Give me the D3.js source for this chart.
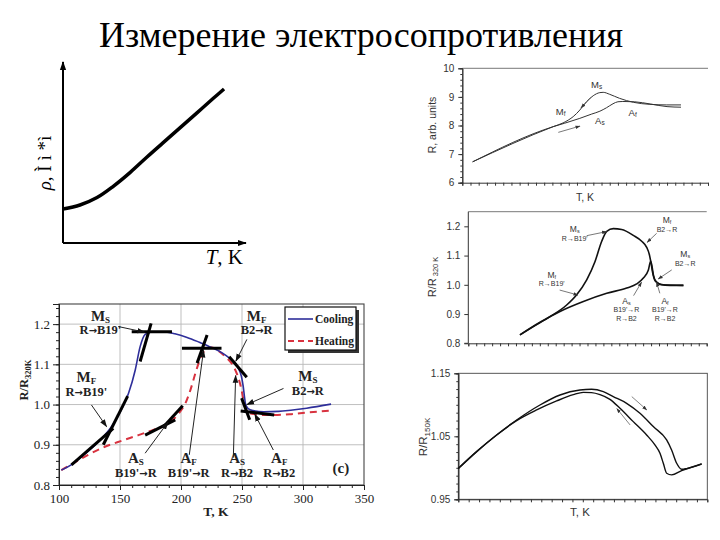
<!DOCTYPE html>
<html><head><meta charset="utf-8">
<script src="https://cdn.jsdelivr.net/npm/d3@7"></script>
<style>body{margin:0;background:#fff}</style>
</head><body><svg id="c" width="720" height="540"></svg>
<script>
// ---------- DATA ----------
const titleText = "Измерение электросопротивления";

// Panel A (schematic rho(T))
const aT   = [0, 0.93, 1.86, 2.73, 3.66, 4.59, 5.46, 6.39, 7.32, 8.20, 8.80];
const aRho = [1.88, 2.10, 2.51, 3.12, 3.89, 4.75, 5.53, 6.36, 7.19, 7.98, 8.51];
const aXLabel = "T, K";
const aYLabel = "ρ, Ì ì *ì";

// Panel B (R, arb. units)
const bCoolT = [1.26, 11.1, 12.3, 13.0, 13.54, 14.35, 15.16, 15.98, 16.79, 17.2, 18.0, 19.2, 20.9, 22.9, 24.9, 26.7];
const bCoolR = [6.73, 7.96, 8.09, 8.20, 8.31, 8.54, 8.83, 9.04, 9.15, 9.16, 9.09, 8.95, 8.81, 8.74, 8.72, 8.72];
const bHeatT = [1.26, 11.1, 12.5, 14.35, 15.8, 16.8, 17.6, 18.4, 19.0, 19.6, 21.0, 23.0, 25.0, 26.7];
const bHeatR = [6.73, 7.96, 8.08, 8.25, 8.40, 8.50, 8.62, 8.76, 8.83, 8.84, 8.83, 8.75, 8.66, 8.64];
const bYTicks = [6, 7, 8, 9, 10];
const bLabMain = ["M", "M", "A", "A"];
const bLabSub  = ["s", "f", "s", "f"];
const bLabT = [16.4, 12.0, 16.8, 20.8];
const bLabV = [9.31, 8.37, 8.05, 8.33];
const bArrows = [[15.68, 8.97, 14.49, 8.62], [11.72, 7.76, 14.37, 7.98]];

// Panel C (R/R320K)
const cCoolT = [6.50, 8.18, 10.28, 12.38, 13.64, 14.90, 15.95, 16.79, 17.42, 18.25, 19.30, 20.77, 21.82, 22.45, 22.79, 23.00, 23.21, 23.50, 24.13, 25.39, 27.07];
const cCoolR = [0.829, 0.857, 0.891, 0.931, 0.966, 1.017, 1.080, 1.149, 1.183, 1.192, 1.189, 1.169, 1.149, 1.128, 1.103, 1.074, 1.040, 1.014, 1.002, 0.998, 0.998];
const cHeatT = [6.50, 9.02, 11.54, 14.48, 17.42, 19.93, 21.19, 22.03, 22.66, 22.95, 23.12, 23.29, 23.63, 24.34, 27.07];
const cHeatR = [0.829, 0.872, 0.909, 0.943, 0.971, 0.989, 1.003, 1.023, 1.051, 1.080, 1.063, 1.034, 1.011, 1.000, 0.998];
const cYTicks = [0.8, 0.9, 1.0, 1.1, 1.2];
const cLabMain = ["M", "M", "M", "M", "A", "A"];
const cLabSub  = ["s", "f", "s", "f", "s", "f"];
const cLabLines = [["R→B19'"], ["B2→R"], ["B2→R"], ["R→B19'"], ["B19'→R", "R→B2"], ["B19'→R", "R→B2"]];
const cLabT = [13.4, 25.0, 27.3, 10.5, 19.9, 24.75];
const cLabV = [1.180, 1.210, 1.094, 1.025, 0.936, 0.936];
const cArrows = [[14.9, 1.168, 17.4, 1.182], [23.7, 1.176, 22.5, 1.145], [25.6, 1.051, 23.9, 1.020],
                 [11.5, 0.982, 13.8, 0.965], [20.8, 0.963, 21.8, 1.009], [24.1, 0.971, 23.7, 1.009]];

// Panel D (R/R150K)
const dUpT  = [0, 2.21, 4.62, 7.03, 9.84, 12.25, 14.66, 16.06, 17.47, 18.67, 20.28, 21.89, 23.49, 25.10, 25.70, 26.31, 26.91, 27.51, 29.32];
const dUpR  = [0.999, 1.0257, 1.0521, 1.0759, 1.0997, 1.1156, 1.1235, 1.1246, 1.1209, 1.1130, 1.1024, 1.0865, 1.0654, 1.0442, 1.0283, 1.0072, 0.9976, 0.9987, 1.0061];
const dLowT = [0, 2.21, 4.62, 7.03, 9.44, 11.85, 13.86, 15.06, 16.06, 17.07, 18.27, 19.48, 21.08, 22.69, 23.69, 24.30, 24.70, 25.10, 25.70, 26.91, 29.32];
const dLowR = [0.999, 1.0257, 1.0521, 1.0749, 1.0918, 1.1061, 1.1161, 1.1198, 1.1193, 1.1161, 1.1087, 1.0945, 1.0733, 1.0521, 1.0363, 1.0230, 1.0072, 0.9913, 0.9887, 0.9955, 1.0061];
const dYTicks = [0.95, 1.05, 1.15];
const dArrows = [[20.9, 1.113, 22.7, 1.092], [20.7, 1.068, 19.1, 1.094]];

// Panel E (c): cooling / heating
const eCoolT = [101.9, 110, 118, 126.5, 135, 143, 151, 157, 162.5, 166.5, 170.5, 175, 185, 195, 205, 215, 225, 234, 240, 244, 247, 249.5, 251, 252, 253, 255, 259, 268, 280, 290, 303, 323];
const eCoolR = [0.837, 0.850, 0.869, 0.891, 0.916, 0.945, 0.987, 1.028, 1.086, 1.144, 1.174, 1.180, 1.181, 1.176, 1.167, 1.155, 1.142, 1.128, 1.115, 1.105, 1.090, 1.070, 1.045, 1.020, 1.000, 0.990, 0.985, 0.982, 0.983, 0.986, 0.991, 1.001];
const eHeatT = [101.9, 112.9, 123.9, 137.6, 151.4, 165.1, 178.8, 189.8, 198.1, 203.6, 207.7, 211.8, 215.9, 220, 225, 231, 236, 242, 246, 249, 251, 253, 257, 270, 289, 303, 323];
const eHeatR = [0.837, 0.856, 0.875, 0.895, 0.910, 0.924, 0.939, 0.953, 0.978, 1.003, 1.036, 1.078, 1.115, 1.136, 1.142, 1.133, 1.120, 1.100, 1.075, 1.045, 1.015, 0.990, 0.978, 0.974, 0.976, 0.980, 0.985];
const eXTicks = [100, 150, 200, 250, 300, 350];
const eYTicks = [0.8, 0.9, 1.0, 1.1, 1.2];
const eSeries = ["Cooling", "Heating"];
const eTangents = [
  [159.6, 1.181, 192.6, 1.181], [166.5, 1.107, 175.5, 1.202],
  [136.3, 0.900, 156.3, 1.021], [110.2, 0.850, 144.5, 0.941],
  [170.6, 0.924, 195.3, 0.962], [185.7, 0.945, 201.4, 0.997],
  [200.8, 1.140, 233.2, 1.140], [213.2, 1.103, 221.4, 1.173],
  [239.5, 1.119, 253.9, 1.068], [249.7, 1.016, 256.3, 0.962],
  [248.9, 0.984, 276.4, 0.974]
];
const eArrows = [
  [148.6, 1.194, 170.0, 1.180], [126.6, 0.999, 139.0, 0.945],
  [170.6, 0.879, 189.3, 0.956], [206.8, 0.875, 218.5, 1.135],
  [242.9, 0.868, 244.8, 1.072], [254.0, 1.162, 245.0, 1.108],
  [284.0, 1.040, 254.0, 1.000], [275.7, 0.887, 260.5, 0.976]
];
const eLabMain  = ["M", "M", "A", "A", "A", "A", "M", "M"];
const eLabSub   = ["S", "F", "S", "F", "S", "F", "F", "S"];
const eLabTrans = ["R→B19'", "R→B19'", "B19'→R", "B19'→R", "R→B2", "R→B2", "B2→R", "B2→R"];
const eLabT     = [134, 122.5, 163, 206.3, 246, 280.5, 262, 304];
const eLabV     = [1.208, 1.055, 0.854, 0.854, 0.854, 0.854, 1.208, 1.058];
const ePanelTag = "(c)";

// ---------- DRAW ----------
const SERIF = "'Liberation Serif','Times New Roman',serif";
const SANS = "'Liberation Sans',Arial,sans-serif";
const svg = d3.select("#c");
svg.append("rect").attr("width", 720).attr("height", 540).attr("fill", "#fff");
const defs = svg.append("defs");
function marker(id, color, size) {
  defs.append("marker").attr("id", id).attr("viewBox", "0 0 10 10").attr("refX", 9).attr("refY", 5)
    .attr("markerWidth", size).attr("markerHeight", size).attr("markerUnits", "userSpaceOnUse")
    .attr("orient", "auto").append("path").attr("d", "M0,1.5L10,5L0,8.5Z").attr("fill", color);
}
marker("arrA", "#000", 9);
marker("arrE", "#111", 8);
marker("arrG", "#333", 5);

const zip = (xs, ys) => xs.map((x, i) => [x, ys[i]]);

// Title
svg.append("text").attr("x", 361).attr("y", 47).attr("text-anchor", "middle")
  .attr("font-family", SERIF).attr("font-size", 36).attr("fill", "#000").text(titleText);

// ---- Panel A ----
{
  const x = d3.scaleLinear().domain([0, 10]).range([63, 246]);
  const y = d3.scaleLinear().domain([0, 10]).range([243, 62]);
  const g = svg.append("g");
  g.append("line").attr("x1", x(0)).attr("y1", y(0)).attr("x2", x(0)).attr("y2", y(10))
    .attr("stroke", "#000").attr("stroke-width", 2).attr("marker-end", "url(#arrA)");
  g.append("line").attr("x1", x(0)).attr("y1", y(0)).attr("x2", x(10)).attr("y2", y(0))
    .attr("stroke", "#000").attr("stroke-width", 2).attr("marker-end", "url(#arrA)");
  g.append("path").datum(zip(aT, aRho))
    .attr("d", d3.line().x(d => x(d[0])).y(d => y(d[1])).curve(d3.curveCatmullRom))
    .attr("fill", "none").attr("stroke", "#000").attr("stroke-width", 3.5);
  const tx = g.append("text").attr("x", 243).attr("y", 264).attr("text-anchor", "end")
    .attr("font-family", SERIF).attr("font-size", 21);
  tx.append("tspan").attr("font-style", "italic").text(aXLabel.split(",")[0]);
  tx.append("tspan").text("," + aXLabel.split(",")[1]);
  const ty = g.append("text").attr("transform", "translate(51,163) rotate(-90)").attr("text-anchor", "middle")
    .attr("font-family", SERIF).attr("font-size", 19);
  ty.append("tspan").attr("font-style", "italic").text(aYLabel.slice(0, 1));
  ty.append("tspan").text(aYLabel.slice(1));
}

function styleAxis(sel, color, font, size) {
  sel.select(".domain").attr("stroke", color);
  sel.selectAll(".tick line").attr("stroke", color);
  sel.selectAll(".tick text").attr("font-family", font).attr("font-size", size).attr("fill", color);
}
function subLabel(g, x, y, main, sub, fMain, fSub, font, weight, color) {
  const t = g.append("text").attr("x", x).attr("y", y).attr("text-anchor", "middle")
    .attr("font-family", font).attr("font-size", fMain).attr("font-weight", weight).attr("fill", color);
  t.append("tspan").text(main);
  t.append("tspan").attr("font-size", fSub).attr("dy", fMain * 0.12).text(sub);
  return t;
}
function arrowText(g, x, y, s, font, size, weight, color) {
  const t = g.append("text").attr("x", x).attr("y", y).attr("text-anchor", "middle")
    .attr("font-family", font).attr("font-size", size).attr("font-weight", weight).attr("fill", color);
  const parts = s.split("→");
  t.append("tspan").text(parts[0]);
  t.append("tspan").attr("font-family", "'DejaVu Sans',sans-serif").attr("font-size", size * 0.8).attr("font-weight", "bold").text("→");
  t.append("tspan").text(parts[1]);
  return t;
}

// ---- Panel B ----
{
  const x = d3.scaleLinear().domain([0, 30]).range([462.3, 708]);
  const y = d3.scaleLinear().domain([6, 10]).range([182.7, 68.3]);
  const g = svg.append("g");
  const col = "#333";
  g.append("line").attr("x1", x(0)).attr("x2", x(30)).attr("y1", y(10)).attr("y2", y(10)).attr("stroke", "#555").attr("stroke-width", 0.8);
  const ay = g.append("g").attr("transform", `translate(${x(0)},0)`)
    .call(d3.axisLeft(y).tickValues(bYTicks).tickSize(4).tickPadding(4).tickFormat(d3.format("d")));
  styleAxis(ay, col, SANS, 10);
  const ay2 = g.append("g").attr("transform", `translate(${x(0)},0)`)
    .call(d3.axisLeft(y).tickValues(d3.range(30).map(i => 6 + i * 0.2).filter(v => v < 10)).tickSize(2).tickFormat(""));
  styleAxis(ay2, col, SANS, 10);
  const ax = g.append("g").attr("transform", `translate(0,${y(6)})`)
    .call(d3.axisBottom(x).tickValues(d3.range(31)).tickSize(3).tickFormat(""));
  styleAxis(ax, col, SANS, 10);
  const ln = d3.line().x(d => x(d[0])).y(d => y(d[1])).curve(d3.curveMonotoneX);
  g.append("path").datum(zip(bCoolT, bCoolR)).attr("d", ln).attr("fill", "none").attr("stroke", "#333").attr("stroke-width", 1);
  g.append("path").datum(zip(bHeatT, bHeatR)).attr("d", ln).attr("fill", "none").attr("stroke", "#333").attr("stroke-width", 1);
  bLabMain.forEach((m, i) => subLabel(g, x(bLabT[i]), y(bLabV[i]), m, bLabSub[i], 9.5, 6.5, SANS, "normal", col));
  bArrows.forEach(a => g.append("line").attr("x1", x(a[0])).attr("y1", y(a[1])).attr("x2", x(a[2])).attr("y2", y(a[3]))
    .attr("stroke", "#555").attr("stroke-width", 0.8).attr("marker-end", "url(#arrG)"));
  g.append("text").attr("transform", "translate(436,125) rotate(-90)").attr("text-anchor", "middle")
    .attr("font-family", SANS).attr("font-size", 10.5).attr("fill", col).text("R, arb. units");
  g.append("text").attr("x", 585).attr("y", 201).attr("text-anchor", "middle")
    .attr("font-family", SANS).attr("font-size", 10.5).attr("fill", col).text("T, K");
}

// ---- Panel C ----
{
  const x = d3.scaleLinear().domain([0, 30]).range([468.3, 706.7]);
  const y = d3.scaleLinear().domain([0.8, 1.25]).range([343.3, 211.7]);
  const g = svg.append("g");
  const col = "#333";
  g.append("line").attr("x1", x(0)).attr("x2", x(30)).attr("y1", y(1.25)).attr("y2", y(1.25)).attr("stroke", "#555").attr("stroke-width", 0.8);
  const ay = g.append("g").attr("transform", `translate(${x(0)},0)`)
    .call(d3.axisLeft(y).tickValues(cYTicks).tickSize(4).tickPadding(4).tickFormat(d3.format(".1f")));
  ay.select(".domain").attr("d", `M-4,${y(0.8)}H0V${y(1.25)}`);
  styleAxis(ay, col, SANS, 10);
  const ax = g.append("g").attr("transform", `translate(0,${y(0.8)})`)
    .call(d3.axisBottom(x).tickValues(d3.range(31)).tickSize(3).tickFormat(""));
  styleAxis(ax, col, SANS, 10);
  const ln = d3.line().x(d => x(d[0])).y(d => y(d[1])).curve(d3.curveMonotoneX);
  g.append("path").datum(zip(cCoolT, cCoolR)).attr("d", ln).attr("fill", "none").attr("stroke", "#111").attr("stroke-width", 1.6);
  g.append("path").datum(zip(cHeatT, cHeatR)).attr("d", ln).attr("fill", "none").attr("stroke", "#111").attr("stroke-width", 1.6);
  cLabMain.forEach((m, i) => {
    subLabel(g, x(cLabT[i]), y(cLabV[i]), m, cLabSub[i], 8.5, 5.5, SANS, "normal", col);
    cLabLines[i].forEach((s, j) => g.append("text").attr("x", x(cLabT[i])).attr("y", y(cLabV[i]) + 8.5 * (j + 1))
      .attr("text-anchor", "middle").attr("font-family", SANS).attr("font-size", 7).attr("fill", col).text(s));
  });
  cArrows.forEach(a => g.append("line").attr("x1", x(a[0])).attr("y1", y(a[1])).attr("x2", x(a[2])).attr("y2", y(a[3]))
    .attr("stroke", "#555").attr("stroke-width", 0.8).attr("marker-end", "url(#arrG)"));
  const t = g.append("text").attr("transform", "translate(436,277) rotate(-90)").attr("text-anchor", "middle")
    .attr("font-family", SANS).attr("font-size", 11).attr("fill", col);
  t.append("tspan").text("R/R");
  t.append("tspan").attr("font-size", 7.5).attr("dy", 2).text(" 320 K");
}

// ---- Panel D ----
{
  const x = d3.scaleLinear().domain([0, 30]).range([458.3, 707.3]);
  const y = d3.scaleLinear().domain([0.95, 1.15]).range([499.3, 373.3]);
  const g = svg.append("g");
  const col = "#333";
  g.append("rect").attr("x", x(0)).attr("y", y(1.15)).attr("width", x(30) - x(0)).attr("height", y(0.95) - y(1.15))
    .attr("fill", "none").attr("stroke", "#444").attr("stroke-width", 0.9);
  const ay = g.append("g").attr("transform", `translate(${x(0)},0)`)
    .call(d3.axisLeft(y).tickValues(dYTicks).tickSize(4).tickPadding(4).tickFormat(d3.format(".2f")));
  styleAxis(ay, col, SANS, 10);
  const ay2 = g.append("g").attr("transform", `translate(${x(0)},0)`)
    .call(d3.axisLeft(y).tickValues(d3.range(17).map(i => 0.95 + i * 0.0125)).tickSize(2).tickFormat(""));
  styleAxis(ay2, col, SANS, 10);
  const ax = g.append("g").attr("transform", `translate(0,${y(0.95)})`)
    .call(d3.axisBottom(x).tickValues(d3.range(25).map(i => i * 1.25)).tickSize(3).tickFormat(""));
  styleAxis(ax, col, SANS, 10);
  const ln = d3.line().x(d => x(d[0])).y(d => y(d[1])).curve(d3.curveMonotoneX);
  g.append("path").datum(zip(dUpT, dUpR)).attr("d", ln).attr("fill", "none").attr("stroke", "#111").attr("stroke-width", 1.4);
  g.append("path").datum(zip(dLowT, dLowR)).attr("d", ln).attr("fill", "none").attr("stroke", "#111").attr("stroke-width", 1.4);
  dArrows.forEach(a => g.append("line").attr("x1", x(a[0])).attr("y1", y(a[1])).attr("x2", x(a[2])).attr("y2", y(a[3]))
    .attr("stroke", "#666").attr("stroke-width", 0.8).attr("marker-end", "url(#arrG)"));
  const t = g.append("text").attr("transform", "translate(427,437) rotate(-90)").attr("text-anchor", "middle")
    .attr("font-family", SANS).attr("font-size", 11.5).attr("fill", col);
  t.append("tspan").text("R/R");
  t.append("tspan").attr("font-size", 8).attr("dy", 3).text("150K");
  g.append("text").attr("x", 580).attr("y", 516).attr("text-anchor", "middle")
    .attr("font-family", SANS).attr("font-size", 11.5).attr("fill", col).text("T, K");
}

// ---- Panel E ----
{
  const x = d3.scaleLinear().domain([100, 350]).range([59, 364]);
  const y = d3.scaleLinear().domain([0.8, 1.25]).range([485, 304]);
  const g = svg.append("g");
  const col = "#222";
  g.selectAll(".gx").data(eXTicks.slice(1, -1)).join("line")
    .attr("x1", d => x(d)).attr("x2", d => x(d)).attr("y1", y(0.8)).attr("y2", y(1.25)).attr("stroke", "#b8b8b8").attr("stroke-width", 0.9);
  g.selectAll(".gy").data(eYTicks.slice(1)).join("line")
    .attr("x1", x(100)).attr("x2", x(350)).attr("y1", d => y(d)).attr("y2", d => y(d)).attr("stroke", "#b8b8b8").attr("stroke-width", 0.9);
  g.append("rect").attr("x", x(100)).attr("y", y(1.25)).attr("width", x(350) - x(100)).attr("height", y(0.8) - y(1.25))
    .attr("fill", "none").attr("stroke", "#444").attr("stroke-width", 1.1);
  const ax = g.append("g").attr("transform", `translate(0,${y(0.8)})`)
    .call(d3.axisBottom(x).tickValues(eXTicks).tickSize(5).tickPadding(4).tickFormat(d3.format("d")));
  styleAxis(ax, col, SERIF, 13);
  const ax2 = g.append("g").attr("transform", `translate(0,${y(0.8)})`)
    .call(d3.axisBottom(x).tickValues(d3.range(100, 351, 10)).tickSize(3).tickFormat(""));
  styleAxis(ax2, col, SERIF, 13);
  const ay = g.append("g").attr("transform", `translate(${x(100)},0)`)
    .call(d3.axisLeft(y).tickValues(eYTicks).tickSize(6).tickPadding(3).tickFormat(d3.format(".1f")));
  styleAxis(ay, col, SERIF, 13);
  const ay2 = g.append("g").attr("transform", `translate(${x(100)},0)`)
    .call(d3.axisLeft(y).tickValues(d3.range(23).map(i => 0.8 + i * 0.02)).tickSize(3).tickFormat(""));
  styleAxis(ay2, col, SERIF, 13);

  const ln = d3.line().x(d => x(d[0])).y(d => y(d[1])).curve(d3.curveMonotoneX);
  g.append("path").datum(zip(eHeatT, eHeatR)).attr("d", ln).attr("fill", "none").attr("stroke", "#d8323f")
    .attr("stroke-width", 2).attr("stroke-dasharray", "7,5");
  g.append("path").datum(zip(eCoolT, eCoolR)).attr("d", ln).attr("fill", "none").attr("stroke", "#2e2e9a").attr("stroke-width", 1.6);
  eTangents.forEach(s => g.append("line").attr("x1", x(s[0])).attr("y1", y(s[1])).attr("x2", x(s[2])).attr("y2", y(s[3]))
    .attr("stroke", "#000").attr("stroke-width", 3));
  eArrows.forEach(a => g.append("line").attr("x1", x(a[0])).attr("y1", y(a[1])).attr("x2", x(a[2])).attr("y2", y(a[3]))
    .attr("stroke", "#222").attr("stroke-width", 1).attr("marker-end", "url(#arrE)"));
  eLabMain.forEach((m, i) => {
    subLabel(g, x(eLabT[i]), y(eLabV[i]), m, eLabSub[i], 15, 9, SERIF, "bold", col);
    arrowText(g, x(eLabT[i]), y(eLabV[i]) + 13.5, eLabTrans[i], SERIF, 12.5, "bold", col);
  });
  g.append("text").attr("x", x(331)).attr("y", y(0.829)).attr("text-anchor", "middle")
    .attr("font-family", SERIF).attr("font-size", 15).attr("font-weight", "bold").attr("fill", col).text(ePanelTag);
  g.append("text").attr("x", 216).attr("y", 516).attr("text-anchor", "middle")
    .attr("font-family", SERIF).attr("font-size", 13.5).attr("font-weight", "bold").attr("fill", col).text("T, K");
  const t = g.append("text").attr("transform", "translate(28,380) rotate(-90)").attr("text-anchor", "middle")
    .attr("font-family", SERIF).attr("font-size", 12.5).attr("font-weight", "bold").attr("fill", col);
  t.append("tspan").text("R/R");
  t.append("tspan").attr("font-size", 8.5).attr("dy", 3).text("320K");
  const lg = g.append("g");
  lg.append("rect").attr("x", 288).attr("y", 310).attr("width", 71).attr("height", 43).attr("fill", "#333");
  lg.append("rect").attr("x", 285).attr("y", 307).attr("width", 71).attr("height", 43).attr("fill", "#fff")
    .attr("stroke", "#111").attr("stroke-width", 1.2);
  const lc = ["#2e2e9a", "#d8323f"];
  eSeries.forEach((s, i) => {
    lg.append("line").attr("x1", 288).attr("x2", 313).attr("y1", 319 + i * 22).attr("y2", 319 + i * 22)
      .attr("stroke", lc[i]).attr("stroke-width", i ? 2 : 1.6).attr("stroke-dasharray", i ? "6,4" : null);
    lg.append("text").attr("x", 315).attr("y", 323 + i * 22).attr("font-family", SERIF).attr("font-size", 11.5)
      .attr("font-weight", "bold").attr("fill", col).text(s);
  });
}
</script></body></html>
